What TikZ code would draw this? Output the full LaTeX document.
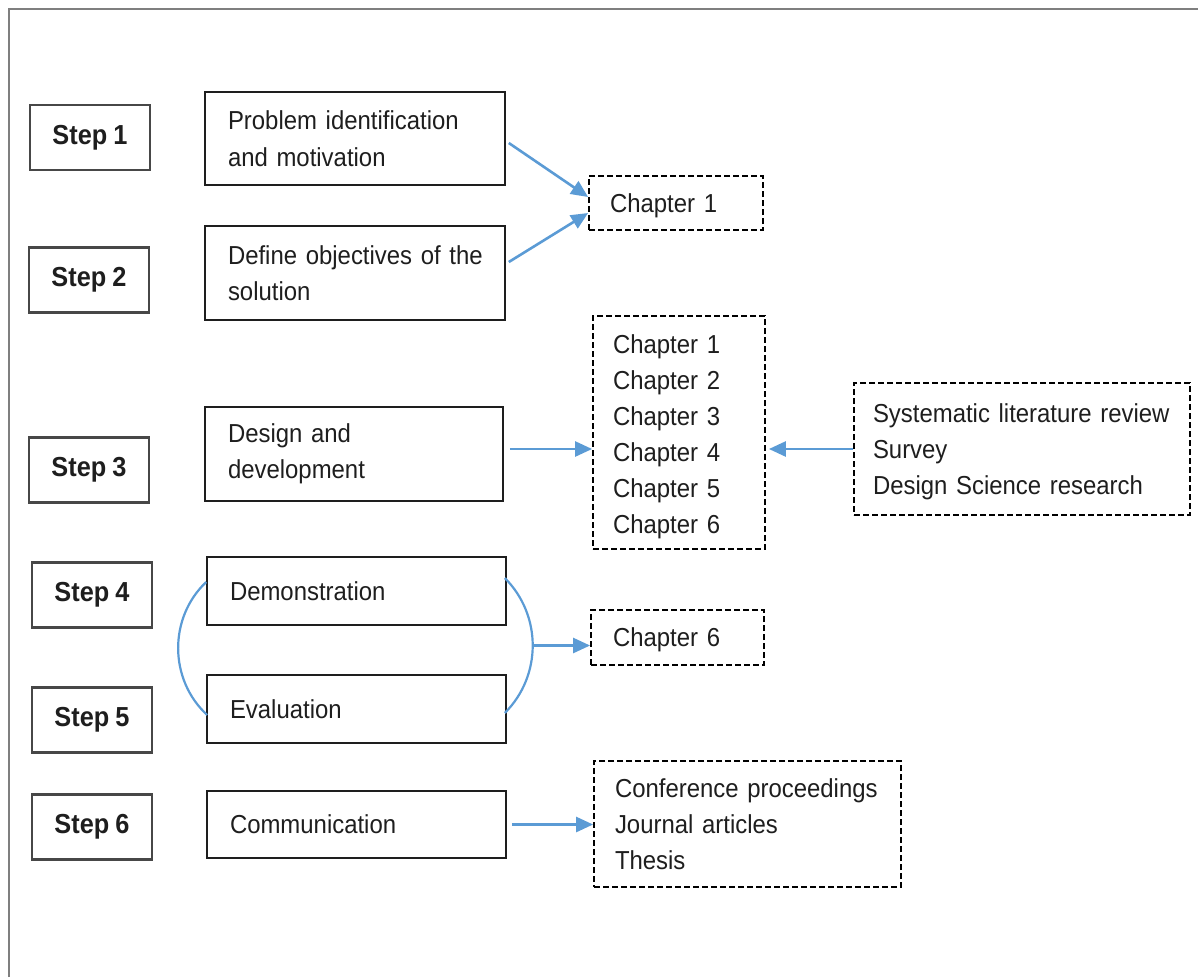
\documentclass[tikz,border=0pt]{standalone}
\usepackage{fontspec}
\setmainfont{Liberation Sans}[FakeStretch=0.92,WordSpace=0.88]
\usetikzlibrary{arrows.meta,calc}
\definecolor{linkblue}{HTML}{5B9BD5}
\definecolor{ink}{HTML}{1E1E1E}
\definecolor{stepline}{HTML}{474747}
\definecolor{framegray}{HTML}{7F7F7F}

\begin{document}
\begin{tikzpicture}[x=1pt,y=1pt,
  stepbox/.style={draw=stepline, line width=2.2pt, minimum width=120pt, minimum height=65pt,
    inner sep=0pt, font=\fontsize{27.5}{33}\selectfont\bfseries, text=ink},
  taskbox/.style={draw=ink, line width=1.6pt, inner sep=0pt, align=left,
    font=\fontsize{26}{36.5}\selectfont, text=ink},
  outbox/.style={draw=black, dash pattern=on 6pt off 3pt, line width=1.8pt, inner sep=0pt,
    align=left, font=\fontsize{26}{36}\selectfont, text=ink},
  link/.style={draw=linkblue, line width=2.6pt},
  arr/.style={link, -{Triangle[length=17pt,width=15pt]}}]

\useasboundingbox (0,0) rectangle (1198,-977);
% outer frame (top and left edges)
\draw[framegray, line width=2pt] (9,-977) -- (9,-9) -- (1198,-9);

% step labels
\node[stepbox] (s1) at (90,-137.5) {Step 1};
\node[stepbox] (s2) at (89,-280) {Step 2};
\node[stepbox] (s3) at (89,-470) {Step 3};
\node[stepbox] (s4) at (92,-595) {Step 4};
\node[stepbox] (s5) at (92,-720) {Step 5};
\node[stepbox] (s6) at (92,-827) {Step 6};

% activities
\node[taskbox, minimum width=300pt, minimum height=93pt, text width=254pt] (prob) at (355,-138.5)
  {\mbox{Problem identification}\\\mbox{and motivation}};
\node[taskbox, minimum width=300pt, minimum height=94pt, text width=254pt] (def) at (355,-273)
  {\mbox{Define objectives of the}\\solution};
\node[taskbox, minimum width=298pt, minimum height=94pt, text width=252pt] (des) at (354,-454)
  {\mbox{Design and}\\development};
\node[taskbox, minimum width=299pt, minimum height=68pt, text width=253pt] (demo) at (356.5,-591)
  {Demonstration};
\node[taskbox, minimum width=299pt, minimum height=68pt, text width=253pt] (eval) at (356.5,-709)
  {Evaluation};
\node[taskbox, minimum width=299pt, minimum height=67pt, text width=253pt] (comm) at (356.5,-824.5)
  {Communication};

% outputs
\node[outbox, minimum width=174pt, minimum height=54pt, text width=132pt] (ch1) at (676,-203)
  {\rule{0pt}{25pt}\mbox{Chapter 1}};
\node[outbox, minimum width=172pt, minimum height=233pt, text width=132pt] (chl) at (679,-432.5)
  {\rule{0pt}{27pt}\mbox{Chapter 1}\\\mbox{Chapter 2}\\\mbox{Chapter 3}\\\mbox{Chapter 4}\\\mbox{Chapter 5}\\\mbox{Chapter 6}};
\node[outbox, minimum width=336pt, minimum height=132pt, text width=298pt] (sys) at (1022,-449)
  {\rule{0pt}{25pt}\mbox{Systematic literature review}\\Survey\\\mbox{Design Science research}};
\node[outbox, minimum width=173pt, minimum height=55pt, text width=129pt] (ch6) at (677.5,-637.5)
  {\rule{0pt}{23pt}\mbox{Chapter 6}};
\node[outbox, minimum width=307pt, minimum height=126pt, text width=265pt] (conf) at (747.5,-824)
  {\mbox{Conference proceedings}\\\mbox{Journal articles}\\Thesis};

% connectors
\draw[arr] ($(prob.east)+(3,-4.5)$) -- ($(ch1.west)+(0,6)$);
\draw[arr] ($(def.east)+(3,11)$) -- ($(ch1.west)+(0,-10)$);
\draw[arr] ($(des.east |- sys.west)+(6,0)$) -- (chl.west |- sys.west);
\draw[arr] (sys.west) -- ($(chl.east |- sys.west)+(3,0)$);

\coordinate (rtop) at ($(demo.east)+(-2,13)$);
\coordinate (rbot) at ($(eval.east)+(-2,-4)$);
\coordinate (ltop) at ($(demo.west)+(0,9)$);
\coordinate (lbot) at ($(eval.west)+(1,-6)$);
\draw[link, line width=2.2pt] (rtop) to[bend left=45] (rbot);
\draw[link, line width=2.2pt] (ltop) to[bend right=47] (lbot);
\coordinate (rmid) at ($(rtop)!0.5!(rbot)+(28,0)$);
\draw[arr] (rmid) -- (rmid -| ch6.west);

\draw[arr] ($(comm.east)+(5,0)$) -- (comm.east -| conf.west);
\end{tikzpicture}
\end{document}
